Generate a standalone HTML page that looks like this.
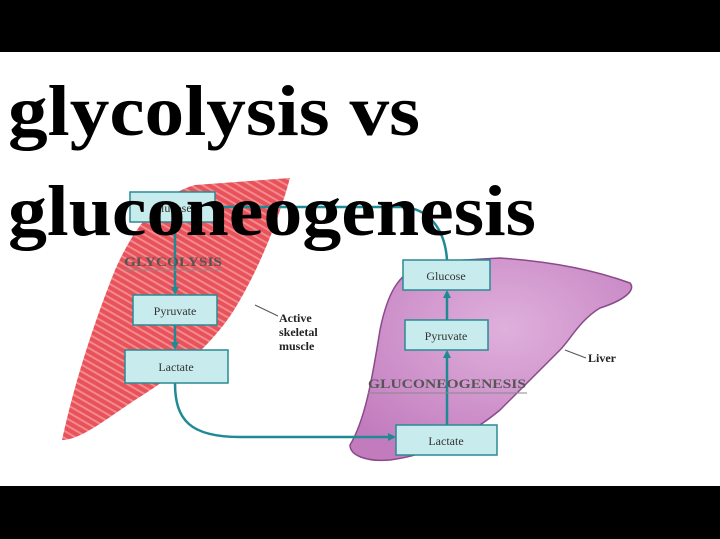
<!DOCTYPE html>
<html><head><meta charset="utf-8"><style>
html,body{margin:0;padding:0;background:#fff;}
svg{display:block}
</style></head><body>
<svg width="720" height="539" viewBox="0 0 720 539" xmlns="http://www.w3.org/2000/svg">
<defs>
<pattern id="stripes" width="6" height="6" patternUnits="userSpaceOnUse" patternTransform="rotate(-60)">
<rect width="6" height="6" fill="#e8525a"/><rect width="2" height="6" fill="#f38a8e"/>
</pattern>
<radialGradient id="lv" cx="0.55" cy="0.35" r="0.7">
<stop offset="0" stop-color="#dfb0dc"/><stop offset="1" stop-color="#c27cbe"/>
</radialGradient>
<marker id="ah" markerWidth="8" markerHeight="8" refX="6" refY="4" orient="auto" markerUnits="userSpaceOnUse"><path d="M0,0 L8,4 L0,8 z" fill="#1f8a94"/></marker>
</defs>
<rect width="720" height="539" fill="#fff"/>
<rect width="720" height="52" fill="#000"/>
<rect y="486" width="720" height="53" fill="#000"/>
<!-- muscle -->
<path d="M62,440 C75,380 95,320 115,270 C135,225 160,195 195,185 L290,178 C280,215 262,262 240,300 C215,345 175,375 135,400 C105,420 80,440 62,440 Z" fill="url(#stripes)"/>
<!-- liver -->
<path d="M350,445 C365,420 372,380 380,330 C388,290 400,270 430,262 L500,258 C560,262 600,272 630,283 C636,290 625,300 600,308 C580,320 570,340 560,350 C540,370 520,390 500,410 C470,435 430,455 390,460 C365,462 350,455 350,445 Z" fill="url(#lv)" stroke="#8a4a8a" stroke-width="1.5"/>
<!-- connectors -->
<path d="M215,207 L405,207 C430,210 445,230 447,260" fill="none" stroke="#1f8a94" stroke-width="2.5"/>
<path d="M175,383 C175,420 190,437 240,437 L394,437" fill="none" stroke="#1f8a94" stroke-width="2.5" marker-end="url(#ah)"/>
<g stroke="#1f8a94" stroke-width="2.5" fill="none">
<line x1="175" y1="222" x2="175" y2="293" marker-end="url(#ah)"/>
<line x1="175" y1="325" x2="175" y2="348" marker-end="url(#ah)"/>
<line x1="447" y1="425" x2="447" y2="352" marker-end="url(#ah)"/>
<line x1="447" y1="320" x2="447" y2="292" marker-end="url(#ah)"/>
</g>
<g fill="#c8ecee" stroke="#2a8a94" stroke-width="1.5">
<rect x="130" y="192" width="85" height="30"/>
<rect x="133" y="295" width="84" height="30"/>
<rect x="125" y="350" width="103" height="33"/>
<rect x="403" y="260" width="87" height="30"/>
<rect x="405" y="320" width="83" height="30"/>
<rect x="396" y="425" width="101" height="30"/>
</g>
<g font-family="Liberation Serif, serif" font-size="12" fill="#333" text-anchor="middle">
<text x="172" y="212">Glucose</text>
<text x="175" y="315">Pyruvate</text>
<text x="176" y="371">Lactate</text>
<text x="446" y="280">Glucose</text>
<text x="446" y="340">Pyruvate</text>
<text x="446" y="445">Lactate</text>
</g>
<g font-family="Liberation Serif, serif" font-weight="bold" fill="#555">
<text x="124" y="266" font-size="13" textLength="98" lengthAdjust="spacingAndGlyphs">GLYCOLYSIS</text>
<line x1="124" y1="270" x2="222" y2="270" stroke="#888"/>
<text x="368" y="388" font-size="13" textLength="158" lengthAdjust="spacingAndGlyphs">GLUCONEOGENESIS</text>
<line x1="368" y1="393" x2="527" y2="393" stroke="#888"/>
</g>
<g font-family="Liberation Serif, serif" font-weight="bold" font-size="12" fill="#222">
<text x="279" y="322">Active</text><text x="279" y="336">skeletal</text><text x="279" y="350">muscle</text>
<text x="588" y="362">Liver</text>
</g>
<line x1="255" y1="305" x2="278" y2="316" stroke="#555"/>
<line x1="565" y1="350" x2="586" y2="358" stroke="#555"/>
<g font-family="Liberation Serif, serif" font-size="72" font-weight="bold" fill="#000">
<text x="8" y="135" textLength="412" lengthAdjust="spacingAndGlyphs">glycolysis vs</text>
<text x="8" y="235" textLength="528" lengthAdjust="spacingAndGlyphs">gluconeogenesis</text>
</g>
</svg>
</body></html>
